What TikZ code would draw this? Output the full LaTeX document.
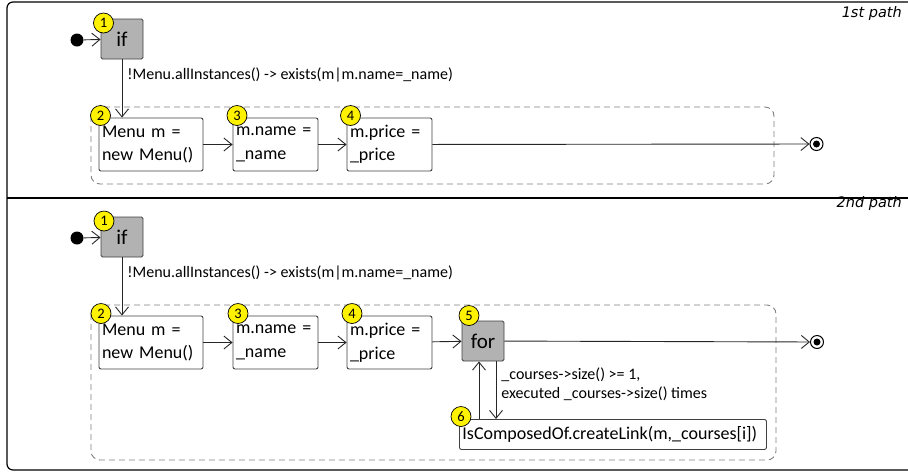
\documentclass[tikz,border=0pt]{standalone}
\usepackage{fontspec}
\setmainfont{Carlito}
\newfontfamily\pathfont{DejaVu Sans}
\usetikzlibrary{arrows.meta}
\tikzset{
    act-box/.style = {draw=black!75, fill=white, line width=0.9pt, rounded corners=2pt, inner xsep=3pt, inner ysep=0pt, minimum height=53pt, align=left, font=\fontsize{18}{23.5}\selectfont},
    ctrl-box/.style = {draw=black!75, fill=black!30, line width=0.9pt, rounded corners=1.5pt, minimum width=42pt, minimum height=40pt, inner sep=0pt, font=\fontsize{21}{21}\selectfont},
    badge/.style = {circle, draw=black, fill=yellow, line width=0.7pt, minimum size=20pt, inner sep=0pt, font=\fontsize{14.5}{14.5}\selectfont},
    start-dot/.style = {circle, fill=black, minimum size=13pt, inner sep=0pt},
    end-dot/.style = {circle, draw=black, fill=white, line width=1pt, minimum size=13pt, inner sep=0pt, path picture={\fill[black] (path picture bounding box.center) circle (3.5pt);}},
    guard/.style = {font=\fontsize{16}{19}\selectfont, align=left, inner sep=0pt},
    region/.style = {draw=black!50, line width=0.9pt, dash pattern=on 6pt off 4pt, rounded corners=9pt},
    flow/.style = {->, draw=black!85, line width=0.9pt},
    path-label/.style = {font=\pathfont\itshape\fontsize{14.5}{14.5}\selectfont, inner sep=0pt},
    >={Straight Barb[length=8pt,width=13pt]},
}

\begin{document}
\begin{tikzpicture}[x=1pt,y=-1pt]
\useasboundingbox (0,0) rectangle (908,475);

% frame with the two paths
\draw[line width=1.2pt, rounded corners=6pt] (908,2) -- (7,2) -- (7,470) -- (908,470);
\draw[line width=1.2pt] (7,198) -- (908,198);
\node[path-label, anchor=base east] (p1) at (902,17.5) {1st path};
\node[path-label, anchor=base east] (p2) at (902,207) {2nd path};

% 1st path
\draw[region] (91,107) rectangle (774,184);
\node[start-dot] (s1) at (77,40) {};
\node[ctrl-box] (if1) at (122,39) {if};
\node[act-box, text width=98pt] (new1) at (151,144.5) {Menu m =\\new Menu()};
\node[act-box, text width=79pt] (name1) at (275.5,144.5) {m.name =\\\_name};
\node[act-box, text width=79pt] (price1) at (389.5,144.5) {m.price =\\\_price};
\node[end-dot] (e1) at (816.5,144) {};
\node[badge] (n11) at (103.5,23) {1};
\node[badge] (n12) at (100.5,115.5) {2};
\node[badge] (n13) at (237,115.5) {3};
\node[badge] (n14) at (350.5,115.5) {4};

\draw[flow] (s1) -- (if1);
\draw[flow] (if1.south) -- (if1.south |- new1.north) node[guard, pos=0.27, right=5pt] (g1) {!Menu.allInstances() -> exists(m|m.name=\_name)};
\draw[flow] (new1) -- (name1);
\draw[flow] (name1) -- (price1);
\draw[flow] (price1) -- (e1);

% 2nd path
\draw[region] (91,305) rectangle (776,460);
\node[start-dot] (s2) at (77,238) {};
\node[ctrl-box] (if2) at (122,237) {if};
\node[act-box, text width=98pt] (new2) at (151,342.5) {Menu m =\\new Menu()};
\node[act-box, text width=79pt] (name2) at (275.5,342.5) {m.name =\\\_name};
\node[act-box, text width=79pt] (price2) at (389.5,342.5) {m.price =\\\_price};
\node[ctrl-box] (for) at (483,341) {for};
\node[act-box, minimum height=30pt, text width=301pt, anchor=north west] (link) at (459,419) {IsComposedOf.createLink(m,\_courses[i])};
\node[end-dot] (e2) at (817,342) {};
\node[badge] (n21) at (104,221) {1};
\node[badge] (n22) at (101,313.5) {2};
\node[badge] (n23) at (238,313.5) {3};
\node[badge] (n24) at (352,313.5) {4};
\node[badge] (n25) at (469,315.5) {5};
\node[badge] (n26) at (461,416.5) {6};

\draw[flow] (s2) -- (if2);
\draw[flow] (if2.south) -- (if2.south |- new2.north) node[guard, pos=0.27, right=5pt] (g2) {!Menu.allInstances() -> exists(m|m.name=\_name)};
\draw[flow] (new2) -- (name2);
\draw[flow] (name2) -- (price2);
\draw[flow] (price2) -- (for);
\draw[flow] (for) -- (e2);
\draw[flow] ([xshift=-4pt]for.south |- link.north) -- ([xshift=-4pt]for.south);
\draw[flow] ([xshift=13pt]for.south) -- ([xshift=13pt]for.south |- link.north) node[guard, pos=0.4, right=5pt] (g3) {\_courses->size() >= 1,\\executed \_courses->size() times};
\end{tikzpicture}
\end{document}
